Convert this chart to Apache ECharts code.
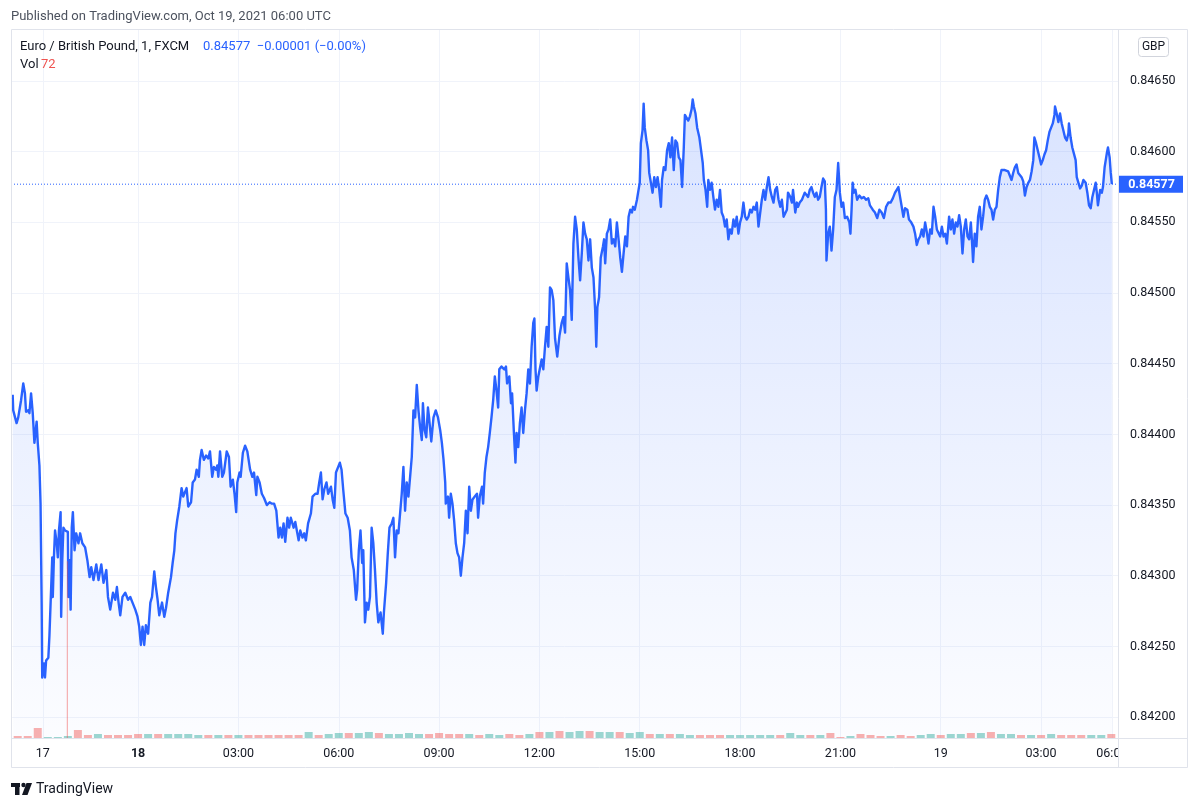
<!DOCTYPE html>
<html><head><meta charset="utf-8">
<script src="https://cdn.jsdelivr.net/npm/echarts@6/dist/echarts.min.js"></script>
<style>html,body{margin:0;padding:0;background:#fff}#c{width:1200px;height:807px}</style>
</head><body><div id="c"></div><script>
// EUR/GBP 1-minute closes: [minutes relative to Oct 18 00:00, price]
const eurgbp = [
[-225,0.84428],[-224,0.84417],[-218,0.84408],[-215,0.84412],[-210,0.84424],[-206,0.84436],[-203,0.84429],[-201,0.84416],[-197,0.84417],[-195,0.84415],
[-192,0.84429],[-189,0.84415],[-186,0.84394],[-182,0.84409],[-180,0.84394],[-177,0.84378],[-175,0.84351],[-173,0.84281],[-172,0.84228],[-169,0.84238],
[-167,0.84228],[-165,0.84240],[-161,0.84242],[-159,0.84258],[-157,0.84259],[-154,0.84313],[-153,0.84285],[-151,0.84313],[-149,0.84332],[-146,0.84323],
[-144,0.84313],[-142,0.84332],[-139,0.84345],[-138,0.84271],[-136,0.84311],[-134,0.84334],[-131,0.84332],[-126,0.84331],[-125,0.84285],[-123,0.84311],
[-121,0.84276],[-119,0.84334],[-117,0.84345],[-114,0.84318],[-111,0.84330],[-107,0.84323],[-104,0.84330],[-100,0.84323],[-95,0.84320],[-91,0.84311],
[-87,0.84299],[-84,0.84306],[-80,0.84297],[-75,0.84308],[-71,0.84297],[-66,0.84308],[-62,0.84295],[-57,0.84304],[-54,0.84285],[-50,0.84276],
[-45,0.84288],[-41,0.84283],[-38,0.84292],[-35,0.84281],[-32,0.84272],[-28,0.84285],[-23,0.84288],[-18,0.84283],[-14,0.84285],[-10,0.84281],
[-5,0.84276],[-1,0.84271],[2,0.84264],[5,0.84251],[8,0.84264],[11,0.84251],[14,0.84265],[18,0.84259],[22,0.84281],[25,0.84285],
[29,0.84303],[32,0.84292],[35,0.84283],[38,0.84272],[43,0.84281],[47,0.84271],[50,0.84277],[54,0.84288],[59,0.84299],[62,0.84309],
[65,0.84318],[67,0.84330],[70,0.84339],[74,0.84349],[78,0.84362],[81,0.84356],[84,0.84359],[87,0.84362],[90,0.84349],[95,0.84352],
[98,0.84366],[102,0.84368],[105,0.84375],[109,0.84370],[111,0.84382],[114,0.84389],[118,0.84382],[122,0.84385],[126,0.84383],[129,0.84388],
[133,0.84370],[136,0.84377],[140,0.84375],[142,0.84378],[144,0.84370],[147,0.84388],[151,0.84370],[154,0.84373],[159,0.84388],[163,0.84384],
[166,0.84363],[170,0.84368],[173,0.84358],[176,0.84345],[178,0.84366],[182,0.84373],[184,0.84370],[188,0.84387],[192,0.84392],[196,0.84388],
[201,0.84375],[205,0.84370],[208,0.84373],[212,0.84357],[214,0.84370],[218,0.84366],[222,0.84358],[226,0.84355],[231,0.84350],[236,0.84352],
[240,0.84351],[244,0.84351],[248,0.84346],[252,0.84327],[255,0.84334],[258,0.84327],[261,0.84337],[264,0.84324],[268,0.84341],[271,0.84334],
[274,0.84341],[279,0.84334],[282,0.84338],[288,0.84325],[291,0.84332],[295,0.84327],[298,0.84330],[301,0.84325],[305,0.84337],[310,0.84344],
[313,0.84356],[318,0.84358],[322,0.84358],[325,0.84366],[328,0.84373],[331,0.84354],[334,0.84361],[338,0.84366],[341,0.84358],[346,0.84363],
[349,0.84354],[352,0.84348],[355,0.84373],[359,0.84377],[362,0.84380],[365,0.84375],[368,0.84361],[372,0.84344],[376,0.84341],[380,0.84332],
[383,0.84313],[387,0.84304],[391,0.84283],[393,0.84290],[396,0.84318],[399,0.84332],[402,0.84309],[404,0.84318],[407,0.84267],[410,0.84281],
[413,0.84276],[416,0.84285],[419,0.84334],[422,0.84323],[425,0.84304],[428,0.84281],[431,0.84267],[435,0.84274],[439,0.84259],[441,0.84274],
[445,0.84295],[448,0.84316],[451,0.84334],[455,0.84337],[458,0.84341],[461,0.84313],[464,0.84332],[467,0.84330],[470,0.84344],[473,0.84358],
[476,0.84377],[479,0.84346],[482,0.84366],[485,0.84356],[488,0.84370],[491,0.84384],[494,0.84417],[497,0.84412],[500,0.84435],[503,0.84417],
[506,0.84405],[509,0.84396],[511,0.84422],[514,0.84403],[517,0.84398],[520,0.84419],[522,0.84412],[526,0.84395],[530,0.84412],[534,0.84417],
[538,0.84412],[542,0.84403],[545,0.84394],[548,0.84382],[551,0.84366],[552,0.84351],[556,0.84356],[558,0.84341],[561,0.84358],[564,0.84351],
[567,0.84339],[570,0.84323],[573,0.84316],[576,0.84313],[579,0.84300],[582,0.84313],[585,0.84323],[588,0.84346],[591,0.84330],[594,0.84363],
[597,0.84346],[600,0.84354],[604,0.84356],[608,0.84358],[610,0.84341],[613,0.84356],[617,0.84363],[619,0.84351],[622,0.84373],[625,0.84384],
[628,0.84391],[631,0.84401],[634,0.84412],[637,0.84424],[640,0.84441],[643,0.84431],[646,0.84419],[648,0.84446],[652,0.84448],[657,0.84446],
[660,0.84448],[662,0.84436],[666,0.84441],[669,0.84422],[671,0.84429],[674,0.84403],[677,0.84380],[679,0.84401],[682,0.84391],[685,0.84408],
[688,0.84419],[691,0.84401],[694,0.84417],[697,0.84429],[700,0.84446],[703,0.84436],[706,0.84462],[709,0.84479],[711,0.84482],[713,0.84446],
[715,0.84431],[718,0.84441],[721,0.84441],[724,0.84453],[727,0.84446],[730,0.84462],[733,0.84476],[736,0.84462],[739,0.84504],[742,0.84502],
[745,0.84495],[748,0.84468],[752,0.84455],[756,0.84470],[760,0.84479],[763,0.84483],[766,0.84472],[769,0.84521],[772,0.84511],[775,0.84502],
[778,0.84481],[781,0.84535],[784,0.84554],[787,0.84545],[790,0.84525],[793,0.84509],[796,0.84528],[799,0.84550],[802,0.84542],[805,0.84538],
[808,0.84523],[811,0.84538],[814,0.84518],[817,0.84511],[820,0.84488],[822,0.84462],[824,0.84490],[827,0.84497],[830,0.84525],[834,0.84533],
[836,0.84538],[838,0.84521],[841,0.84542],[844,0.84545],[847,0.84552],[850,0.84535],[853,0.84538],[856,0.84533],[859,0.84550],[862,0.84538],
[865,0.84525],[868,0.84515],[871,0.84528],[874,0.84540],[877,0.84533],[880,0.84554],[883,0.84559],[886,0.84557],[888,0.84561],[891,0.84559],
[895,0.84566],[897,0.84571],[900,0.84578],[902,0.84606],[905,0.84615],[907,0.84634],[909,0.84617],[912,0.84608],[915,0.84601],[917,0.84585],
[920,0.84586],[923,0.84571],[926,0.84582],[929,0.84575],[932,0.84582],[935,0.84573],[938,0.84561],[940,0.84580],[943,0.84589],[946,0.84587],
[949,0.84601],[952,0.84606],[955,0.84596],[958,0.84610],[961,0.84587],[964,0.84608],[967,0.84606],[970,0.84596],[973,0.84594],[976,0.84575],
[979,0.84603],[981,0.84626],[984,0.84625],[987,0.84622],[990,0.84625],[993,0.84630],[995,0.84637],[997,0.84632],[1000,0.84627],[1003,0.84617],
[1007,0.84610],[1010,0.84601],[1013,0.84592],[1015,0.84580],[1018,0.84573],[1021,0.84561],[1023,0.84580],[1026,0.84573],[1029,0.84578],[1032,0.84568],
[1035,0.84559],[1038,0.84566],[1041,0.84561],[1044,0.84573],[1047,0.84557],[1050,0.84554],[1053,0.84547],[1056,0.84552],[1059,0.84538],[1062,0.84545],
[1065,0.84542],[1068,0.84552],[1071,0.84547],[1074,0.84554],[1077,0.84542],[1080,0.84550],[1083,0.84554],[1086,0.84564],[1089,0.84554],[1092,0.84552],
[1095,0.84554],[1098,0.84559],[1101,0.84557],[1104,0.84561],[1107,0.84559],[1110,0.84564],[1113,0.84547],[1116,0.84546],[1119,0.84566],[1122,0.84573],
[1125,0.84566],[1128,0.84575],[1131,0.84582],[1134,0.84573],[1137,0.84568],[1140,0.84564],[1143,0.84573],[1146,0.84575],[1149,0.84566],[1152,0.84561],
[1155,0.84566],[1158,0.84554],[1161,0.84554],[1164,0.84559],[1166,0.84571],[1170,0.84568],[1173,0.84564],[1175,0.84573],[1179,0.84557],[1182,0.84564],
[1184,0.84561],[1187,0.84564],[1191,0.84566],[1193,0.84568],[1196,0.84571],[1202,0.84568],[1205,0.84573],[1208,0.84575],[1211,0.84571],[1214,0.84568],
[1217,0.84571],[1220,0.84566],[1223,0.84568],[1226,0.84575],[1229,0.84581],[1232,0.84579],[1234,0.84559],[1235,0.84523],[1238,0.84542],[1241,0.84547],
[1244,0.84530],[1247,0.84545],[1250,0.84568],[1253,0.84573],[1256,0.84592],[1259,0.84571],[1262,0.84561],[1265,0.84564],[1268,0.84553],[1272,0.84554],
[1276,0.84550],[1278,0.84542],[1280,0.84559],[1282,0.84578],[1284,0.84571],[1287,0.84573],[1290,0.84566],[1294,0.84569],[1298,0.84567],[1302,0.84568],
[1306,0.84566],[1310,0.84567],[1313,0.84562],[1318,0.84559],[1322,0.84557],[1326,0.84553],[1330,0.84559],[1334,0.84557],[1338,0.84553],[1342,0.84561],
[1346,0.84564],[1350,0.84564],[1354,0.84567],[1358,0.84571],[1361,0.84573],[1364,0.84575],[1367,0.84568],[1370,0.84561],[1373,0.84554],[1376,0.84560],
[1380,0.84559],[1383,0.84552],[1387,0.84550],[1391,0.84547],[1394,0.84542],[1397,0.84534],[1400,0.84538],[1403,0.84540],[1406,0.84545],[1409,0.84540],
[1412,0.84550],[1415,0.84543],[1418,0.84535],[1421,0.84545],[1424,0.84542],[1427,0.84561],[1430,0.84554],[1433,0.84545],[1439,0.84540],[1442,0.84547],
[1445,0.84540],[1448,0.84542],[1451,0.84535],[1453,0.84535],[1455,0.84554],[1458,0.84545],[1461,0.84552],[1464,0.84542],[1467,0.84550],[1470,0.84547],
[1473,0.84555],[1476,0.84547],[1479,0.84528],[1482,0.84545],[1485,0.84552],[1488,0.84540],[1491,0.84538],[1494,0.84550],[1497,0.84530],[1498,0.84522],
[1501,0.84542],[1504,0.84533],[1507,0.84554],[1510,0.84561],[1513,0.84545],[1516,0.84554],[1519,0.84566],[1522,0.84569],[1525,0.84566],[1528,0.84561],
[1531,0.84559],[1534,0.84552],[1537,0.84559],[1540,0.84561],[1543,0.84573],[1546,0.84582],[1549,0.84587],[1552,0.84588],[1555,0.84587],[1558,0.84588],
[1561,0.84586],[1564,0.84585],[1567,0.84580],[1570,0.84585],[1573,0.84589],[1576,0.84591],[1579,0.84585],[1582,0.84584],[1585,0.84582],[1588,0.84579],
[1591,0.84569],[1594,0.84575],[1597,0.84578],[1600,0.84580],[1603,0.84586],[1606,0.84594],[1608,0.84610],[1611,0.84606],[1614,0.84605],[1617,0.84596],
[1620,0.84591],[1623,0.84594],[1626,0.84598],[1629,0.84601],[1632,0.84608],[1635,0.84614],[1638,0.84615],[1641,0.84620],[1644,0.84626],[1645,0.84632],
[1648,0.84627],[1651,0.84621],[1654,0.84627],[1657,0.84620],[1660,0.84615],[1663,0.84610],[1666,0.84608],[1669,0.84613],[1670,0.84620],[1673,0.84610],
[1676,0.84603],[1679,0.84603],[1682,0.84594],[1684,0.84582],[1687,0.84578],[1690,0.84574],[1693,0.84576],[1696,0.84580],[1699,0.84581],[1700,0.84578],
[1703,0.84571],[1706,0.84562],[1709,0.84560],[1712,0.84568],[1715,0.84573],[1718,0.84578],[1720,0.84571],[1722,0.84562],[1726,0.84573],[1729,0.84571],
[1731,0.84575],[1734,0.84589],[1738,0.84599],[1740,0.84603],[1743,0.84596],[1745,0.84585],[1747,0.84577]
];
const lastPrice = 0.84577;
const lastChange = '\u22120.00001 (\u22120.00%)';
const lastVolume = 72;

// volume: typical per-bar volume in 18-minute blocks starting at -225
const volBinStart = -225;
const volBinMinutes = 18;
const volumes = [
30,30,150,15,15,30,120,45,60,45,
45,45,60,60,60,60,60,60,45,45,
45,45,45,45,45,45,45,45,45,90,
45,60,75,75,75,90,75,60,60,75,
60,60,75,60,60,60,45,60,45,60,
45,60,90,90,105,90,105,105,90,90,
90,75,90,60,60,60,60,45,45,45,
45,45,45,45,45,45,45,75,45,45,
45,75,15,30,60,45,30,30,45,30,
45,60,45,60,60,75,75,90,60,60,
45,45,45,60,45,45,45,45,45,60
];
const volSpike = [[-127, 2650]];

const xMin = -228, xMax = 1758;
const xTickValues = [-171, 0, 180, 360, 540, 720, 900, 1080, 1260, 1440, 1620, 1747];
const xTickLabels = ['17', '18', '03:00', '06:00', '09:00', '12:00', '15:00', '18:00', '21:00', '19', '03:00', '06:00'];
const priceTicks = [0.842, 0.8425, 0.843, 0.8435, 0.844, 0.8445, 0.845, 0.8455, 0.846, 0.8465];

const FONT = 'Roboto, "Noto Sans", sans-serif';
const GRID_COLOR = '#f0f3fa';
const BORDER = '#e0e3eb';

function priceAt(t) {
  let p = eurgbp[0][1];
  for (const d of eurgbp) { if (d[0] <= t) p = d[1]; else break; }
  return p;
}
const volData = volumes.map((v, i) => {
  const t0 = volBinStart + i * volBinMinutes, t1 = t0 + volBinMinutes;
  const up = priceAt(t1) >= priceAt(t0);
  return { value: [t0 + volBinMinutes / 2, v], itemStyle: { color: up ? 'rgba(38,166,154,0.45)' : 'rgba(239,83,80,0.45)' } };
});

const chart = echarts.init(document.getElementById('c'), null, { renderer: 'canvas' });
const staticGraphics = [
  { id: 'mask', type: 'rect', z: 50, shape: { x: 1119, y: 739, width: 68, height: 28 }, style: { fill: '#ffffff' } },
  { id: 'frame', type: 'rect', z: 51, shape: { x: 11.5, y: 29.5, width: 1176, height: 738 }, style: { fill: 'none', stroke: BORDER, lineWidth: 1 } },
  { id: 'vsep', type: 'line', z: 51, shape: { x1: 1118.5, y1: 29.5, x2: 1118.5, y2: 767.5 }, style: { stroke: BORDER, lineWidth: 1 } },
  { id: 'hsep', type: 'line', z: 51, shape: { x1: 11.5, y1: 738.5, x2: 1187.5, y2: 738.5 }, style: { stroke: BORDER, lineWidth: 1 } },
  { id: 'gbpbox', type: 'rect', z: 51, shape: { x: 1138.5, y: 37.5, width: 30, height: 19, r: 3 }, style: { fill: '#ffffff', stroke: '#d1d4dc', lineWidth: 1 } },
  { id: 'gbp', type: 'text', z: 52, x: 1153.5, y: 47, style: { text: 'GBP', fill: '#131722', font: '12px ' + FONT, align: 'center', verticalAlign: 'middle' } },
  { id: 'pub', type: 'text', z: 52, x: 11, y: 17, style: { text: 'Published on TradingView.com, Oct 19, 2021 06:00 UTC', fill: '#4c525e', font: '13px ' + FONT, verticalAlign: 'middle' } },
  { id: 'sym', type: 'text', z: 52, x: 20, y: 47, style: { text: 'Euro / British Pound, 1, FXCM', fill: '#131722', font: '13px ' + FONT, verticalAlign: 'middle' } },
  { id: 'val', type: 'text', z: 52, x: 203, y: 47, style: { text: lastPrice.toFixed(5) + '  ' + lastChange, fill: '#2962ff', font: '13px ' + FONT, verticalAlign: 'middle' } },
  { id: 'vol', type: 'text', z: 52, x: 20, y: 65, style: { text: 'Vol', fill: '#131722', font: '13px ' + FONT, verticalAlign: 'middle' } },
  { id: 'volv', type: 'text', z: 52, x: 41, y: 65, style: { text: String(lastVolume), fill: '#ef5350', font: '13px ' + FONT, verticalAlign: 'middle' } },
  { id: 'lg1', type: 'rect', z: 52, shape: { x: 11, y: 783, width: 9, height: 4 }, style: { fill: '#131722' } },
  { id: 'lg2', type: 'rect', z: 52, shape: { x: 15, y: 783, width: 4.5, height: 12 }, style: { fill: '#131722' } },
  { id: 'lg3', type: 'circle', z: 52, shape: { cx: 23.5, cy: 785, r: 2.2 }, style: { fill: '#131722' } },
  { id: 'lg4', type: 'polygon', z: 52, shape: { points: [[26.5, 783], [32, 783], [27.5, 795], [22, 795]] }, style: { fill: '#131722' } },
  { id: 'tv', type: 'text', z: 52, x: 36, y: 789, style: { text: 'TradingView', fill: '#131722', font: '14px ' + FONT, verticalAlign: 'middle' } }
];
const option = {
  animation: false,
  backgroundColor: '#ffffff',
  textStyle: { fontFamily: FONT },
  grid: { left: 11, right: 82, top: 29, bottom: 69, containLabel: false, outerBoundsMode: 'none' },
  xAxis: [{
    type: 'value', min: xMin, max: xMax,
    axisLine: { show: false },
    axisTick: { show: false, customValues: xTickValues },
    axisLabel: {
      customValues: xTickValues, margin: 9, color: '#131722', fontSize: 12.5, fontFamily: FONT,
      formatter: (v) => { const s = xTickLabels[xTickValues.indexOf(v)]; return s === '18' ? '{b|' + s + '}' : s; },
      rich: { b: { fontWeight: 'bold', fontSize: 12.5, color: '#131722', fontFamily: FONT } }
    },
    splitLine: { show: true, lineStyle: { color: GRID_COLOR, width: 1 } }
  }, {
    type: 'value', min: xMin, max: xMax, show: false
  }],
  yAxis: [{
    type: 'value', position: 'right', min: 0.841852, max: 0.846868,
    axisLine: { show: false },
    axisTick: { show: false, customValues: priceTicks },
    axisLabel: { customValues: priceTicks, margin: 12, color: '#131722', fontSize: 12.5, fontFamily: FONT,
      formatter: (v) => v.toFixed(5) },
    splitLine: { show: true, lineStyle: { color: GRID_COLOR, width: 1 } }
  }, {
    type: 'value', min: 0, max: 10635, show: false, splitLine: { show: false }
  }],
  series: [{
    name: 'EURGBP', type: 'line', data: eurgbp, xAxisIndex: 0, yAxisIndex: 0,
    showSymbol: false, symbol: 'none', z: 3,
    lineStyle: { color: '#2962ff', width: 2.4, join: 'round' },
    areaStyle: {
      color: new echarts.graphic.LinearGradient(0, 0, 0, 1, [
        { offset: 0, color: 'rgba(41,98,255,0.25)' },
        { offset: 1, color: 'rgba(41,98,255,0.025)' }
      ])
    }
  }, {
    name: 'Last', type: 'line', data: [[xMin, lastPrice], [xMax, lastPrice]], xAxisIndex: 1, yAxisIndex: 0,
    showSymbol: false, symbol: 'none', z: 2, silent: true,
    lineStyle: { color: '#2962ff', type: [1, 2], width: 1 }
  }, {
    name: 'Vol', type: 'bar', data: volData, xAxisIndex: 0, yAxisIndex: 1, barWidth: 8, z: 4
  }, {
    name: 'VolSpike', type: 'bar', data: volSpike, xAxisIndex: 1, yAxisIndex: 1, barWidth: 1, z: 4,
    itemStyle: { color: 'rgba(239,83,80,0.55)' }
  }],
  graphic: staticGraphics
};
chart.setOption(option);

// last-price tag on the price scale, placed through the y axis scale
const tagY = chart.convertToPixel({ yAxisIndex: 0 }, lastPrice);
chart.setOption({
  graphic: staticGraphics.concat([
    { id: 'tagbox', type: 'rect', z: 53, shape: { x: 1119, y: tagY - 8.5, width: 64, height: 17 }, style: { fill: '#2962ff' } },
    { id: 'tagtxt', type: 'text', z: 54, x: 1151.5, y: tagY + 0.5, style: { text: lastPrice.toFixed(5), fill: '#ffffff', font: 'bold 12.5px ' + FONT, align: 'center', verticalAlign: 'middle' } }
  ])
});
</script></body></html>
